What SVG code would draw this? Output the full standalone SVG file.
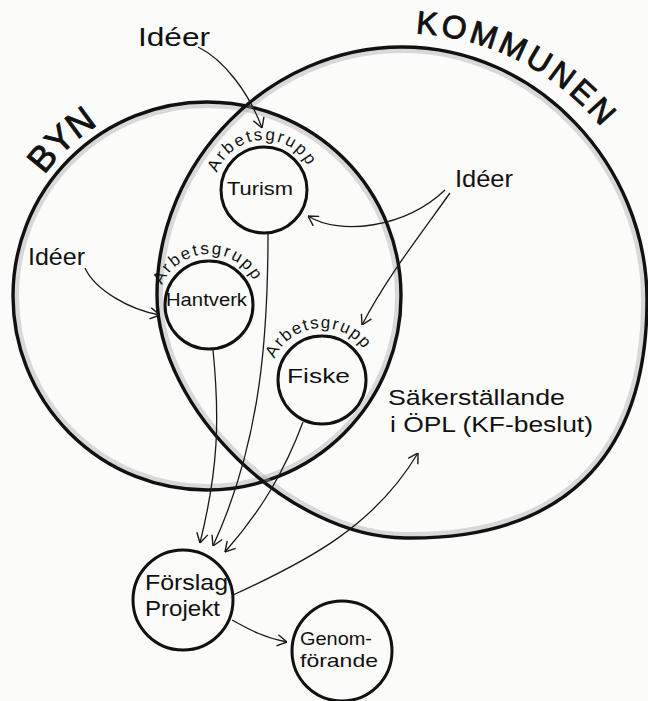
<svg xmlns="http://www.w3.org/2000/svg" width="648" height="701" viewBox="0 0 648 701">
<style>
.big{fill:none;stroke:#111;stroke-width:3.4}
.shade{fill:none;stroke:#a5a5a5;stroke-width:12;opacity:.4}
.node{fill:none;stroke:#111;stroke-width:3}
.con{fill:none;stroke:#1a1a1a;stroke-width:1.3;marker-end:url(#ah)}
.t{font-family:"Liberation Sans","DejaVu Sans",sans-serif;fill:#111}
.cap{font-family:"Liberation Sans","DejaVu Sans",sans-serif;fill:#111;stroke:#111;stroke-width:.9}
</style>
<defs>
<marker id="ah" viewBox="0 0 10 12" refX="10" refY="6" markerWidth="11" markerHeight="13" markerUnits="userSpaceOnUse" orient="auto">
<path d="M1,0.8 L10,6 L1,11.2" fill="none" stroke="#1a1a1a" stroke-width="1.3"/>
</marker>
<path id="kpath" d="M402,47 C537,47 647,165 647,300 C647,460 560,540 405,538 C290,537 157,410 157,295 C157,160 270,47 402,47 Z"/>
<clipPath id="kclip"><use href="#kpath"/></clipPath>
<clipPath id="bclip"><circle cx="207" cy="296" r="194"/></clipPath>
<path id="arcK" d="M415.5,33.4 A258,258 0 0 1 605.3,132.1"/>
<path id="arcB" d="M44.4,175.2 A202,202 0 0 1 95.7,126.4"/>
<path id="arcT" d="M217,172.9 A50,50 0 0 1 311,172.9"/>
<path id="arcH" d="M162,285.1 A51,51 0 0 1 256.9,287.6"/>
<path id="arcF" d="M274.5,358.9 A52,52 0 0 1 367.5,354.8"/>
</defs>
<rect width="648" height="701" fill="#fbfbfa"/>

<g id="byn">
<circle cx="207" cy="296" r="194" class="shade" clip-path="url(#bclip)"/>
<circle cx="207" cy="296" r="194" class="big"/>
<text class="cap" font-size="36"><textPath href="#arcB" textLength="74" lengthAdjust="spacing">BYN</textPath></text>
</g>

<g id="kommunen">
<use href="#kpath" class="shade" clip-path="url(#kclip)"/>
<use href="#kpath" class="big"/>
<text class="cap" font-size="32"><textPath href="#arcK" textLength="214" lengthAdjust="spacing">KOMMUNEN</textPath></text>
</g>

<g id="turism">
<circle cx="264" cy="190" r="43" class="node"/>
<text class="t" font-size="17"><textPath href="#arcT" textLength="114" lengthAdjust="spacing">Arbetsgrupp</textPath></text>
<text class="t" x="227" y="195" font-size="19" textLength="66" lengthAdjust="spacingAndGlyphs">Turism</text>
</g>

<g id="hantverk">
<circle cx="209" cy="305" r="44" class="node"/>
<text class="t" font-size="17"><textPath href="#arcH" textLength="114" lengthAdjust="spacing">Arbetsgrupp</textPath></text>
<text class="t" x="166" y="306" font-size="18" textLength="81" lengthAdjust="spacingAndGlyphs">Hantverk</text>
</g>

<g id="fiske">
<circle cx="322" cy="380" r="44" class="node"/>
<text class="t" font-size="17"><textPath href="#arcF" textLength="108" lengthAdjust="spacing">Arbetsgrupp</textPath></text>
<text class="t" x="287" y="383" font-size="21" textLength="63" lengthAdjust="spacingAndGlyphs">Fiske</text>
</g>

<g id="forslag">
<circle cx="183" cy="600" r="50" class="node"/>
<text class="t" x="145" y="590" font-size="22" textLength="83" lengthAdjust="spacingAndGlyphs">Förslag</text>
<text class="t" x="145" y="616" font-size="22" textLength="75" lengthAdjust="spacingAndGlyphs">Projekt</text>
</g>

<g id="genomforande">
<circle cx="342" cy="651" r="50" class="node"/>
<text class="t" x="300" y="645" font-size="19" textLength="72" lengthAdjust="spacingAndGlyphs">Genom-</text>
<text class="t" x="300" y="667" font-size="19" textLength="78" lengthAdjust="spacingAndGlyphs">förande</text>
</g>

<g id="ideer-top"><text class="t" x="138" y="46" font-size="25" textLength="72" lengthAdjust="spacingAndGlyphs">Idéer</text></g>
<g id="ideer-left"><text class="t" x="28" y="265" font-size="24" textLength="57" lengthAdjust="spacingAndGlyphs">Idéer</text></g>
<g id="ideer-right"><text class="t" x="455" y="187" font-size="24" textLength="58" lengthAdjust="spacingAndGlyphs">Idéer</text></g>

<g id="sakerstallande">
<text class="t" x="388" y="405" font-size="22" textLength="177" lengthAdjust="spacingAndGlyphs">Säkerställande</text>
<text class="t" x="390" y="432" font-size="22" textLength="203" lengthAdjust="spacingAndGlyphs">i ÖPL (KF-beslut)</text>
</g>

<g id="connectors">
<path class="con" d="M198,47 C225,60 250,95 262,128"/>
<path class="con" d="M85,268 C95,290 130,310 160,315"/>
<path class="con" d="M445,190 C405,228 340,236 308,216"/>
<path class="con" d="M450,193 C420,235 385,280 362,325"/>
<path class="con" d="M213,350 C220,420 218,470 200,543"/>
<path class="con" d="M268,233 C268,330 262,440 213,546"/>
<path class="con" d="M303,422 C285,470 262,510 225,552"/>
<path class="con" d="M233,595 C310,560 375,525 418,453"/>
<path class="con" d="M232,620 C250,630 265,638 287,642"/>
</g>
</svg>
